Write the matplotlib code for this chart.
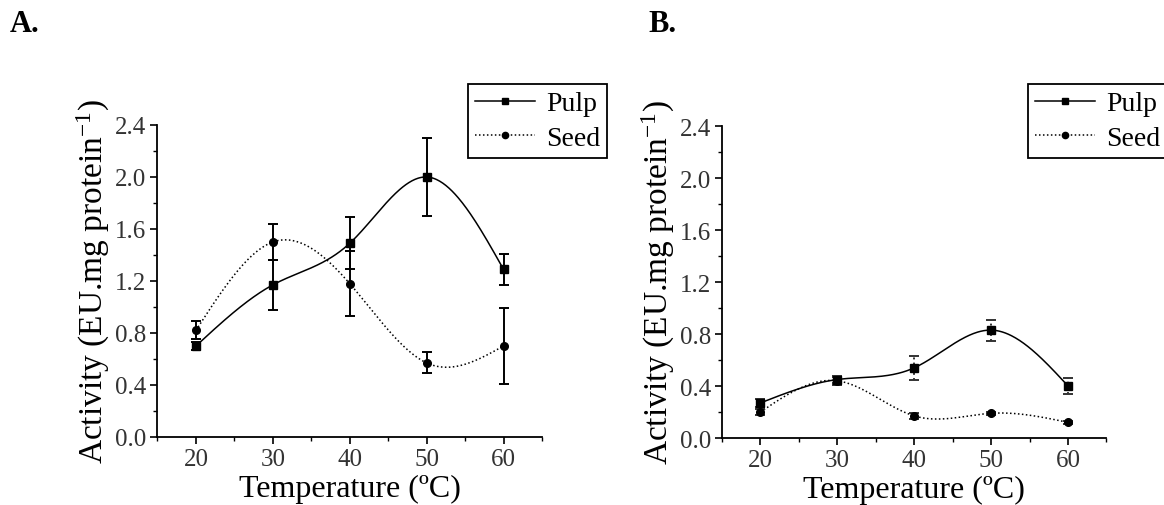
import numpy as np
import matplotlib.pyplot as plt
from matplotlib.ticker import MultipleLocator

plt.rcParams['font.family'] = ['Liberation Serif', 'DejaVu Serif']
plt.rcParams['mathtext.fontset'] = 'custom'
plt.rcParams['mathtext.rm'] = 'Liberation Serif'
plt.rcParams['mathtext.it'] = 'Liberation Serif:italic'

# data
temps = [20, 30, 40, 50, 60]

pulp_a = [0.70, 1.17, 1.49, 2.00, 1.29]
pulp_a_err = [0.03, 0.19, 0.20, 0.30, 0.12]
seed_a = [0.82, 1.50, 1.18, 0.57, 0.70]
seed_a_err = [0.07, 0.14, 0.25, 0.08, 0.29]

pulp_b = [0.27, 0.45, 0.54, 0.83, 0.40]
pulp_b_err = [0.03, 0.03, 0.09, 0.08, 0.06]
seed_b = [0.20, 0.44, 0.17, 0.19, 0.12]
seed_b_err = [0.02, 0.03, 0.02, 0.01, 0.01]


def smooth(x, y, n=300):
    # natural cubic spline through the points (like Origin's spline connector)
    x = np.asarray(x, float)
    y = np.asarray(y, float)
    k = len(x)
    h = np.diff(x)
    A = np.zeros((k, k))
    r = np.zeros(k)
    A[0, 0] = A[-1, -1] = 1
    for i in range(1, k - 1):
        A[i, i - 1] = h[i - 1]
        A[i, i] = 2 * (h[i - 1] + h[i])
        A[i, i + 1] = h[i]
        r[i] = 6 * ((y[i + 1] - y[i]) / h[i] - (y[i] - y[i - 1]) / h[i - 1])
    M = np.linalg.solve(A, r)
    xs = np.linspace(x[0], x[-1], n)
    idx = np.clip(np.searchsorted(x, xs) - 1, 0, k - 2)
    x0, x1 = x[idx], x[idx + 1]
    hh = x1 - x0
    t0, t1 = x1 - xs, xs - x0
    ys = (M[idx] * t0**3 + M[idx + 1] * t1**3) / (6 * hh) \
        + (y[idx] / hh - M[idx] * hh / 6) * t0 \
        + (y[idx + 1] / hh - M[idx + 1] * hh / 6) * t1
    return xs, ys


fig = plt.figure(figsize=(11.64, 5.06), dpi=100)
ax_a = fig.add_axes([0.1353, 0.1344, 0.3303, 0.6166])
ax_b = fig.add_axes([0.6203, 0.1324, 0.3303, 0.6166])

dot = (0, (1, 1.6))


def draw(ax, pulp, pulp_err, seed, seed_err, errstyle, errcolor):
    xs, ys = smooth(temps, pulp)
    ax.plot(xs, ys, color='black', lw=1.1)
    xs, ys = smooth(temps, seed)
    ax.plot(xs, ys, color='black', lw=1.1, ls=dot)
    e1 = ax.errorbar(temps, pulp, yerr=pulp_err, fmt='none', ecolor=errcolor,
                     elinewidth=1.4, capsize=3.5, capthick=1.4, clip_on=False)
    e2 = ax.errorbar(temps, seed, yerr=seed_err, fmt='none', ecolor=errcolor,
                     elinewidth=1.4, capsize=3.5, capthick=1.4, clip_on=False)
    for e in (e1, e2):
        for c in e[2]:
            c.set_linestyle(errstyle)
    ax.plot(temps, pulp, ls='none', marker='s', ms=6, color='black', clip_on=False)
    ax.plot(temps, seed, ls='none', marker='o', ms=5.5, color='black', clip_on=False)
    # legend handles
    ax.plot([], [], color='black', lw=1.1, marker='s', ms=5, label='Pulp')
    ax.plot([], [], color='black', lw=1.1, ls=dot, marker='o', ms=4.5, label='Seed')

    ax.set_xlim(15, 65)
    ax.set_ylim(0, 2.4)
    ax.xaxis.set_major_locator(MultipleLocator(10))
    ax.xaxis.set_minor_locator(MultipleLocator(5))
    ax.set_xticks(temps)
    ax.yaxis.set_major_locator(MultipleLocator(0.4))
    ax.yaxis.set_minor_locator(MultipleLocator(0.2))
    ax.yaxis.set_major_formatter(plt.FuncFormatter(lambda v, p: f'{v:.1f}'))
    ax.spines['top'].set_visible(False)
    ax.spines['right'].set_visible(False)
    for s in ('left', 'bottom'):
        ax.spines[s].set_linewidth(1.3)
    ax.tick_params(which='major', direction='out', length=5, width=1.2,
                   labelsize=18, labelcolor='#333333', pad=3)
    ax.tick_params(which='minor', direction='out', length=3, width=1.0)
    ax.set_xlabel('Temperature (ºC)', fontsize=23, labelpad=3)
    ax.set_ylabel('Activity (EU.mg protein$^{-1}$)', fontsize=24, labelpad=2)


draw(ax_a, pulp_a, pulp_a_err, seed_a, seed_a_err, '-', 'black')
draw(ax_b, pulp_b, pulp_b_err, seed_b, seed_b_err, ':', '#333333')

for ax, x0 in ((ax_a, 468), (ax_b, 1028)):
    leg = ax.legend(loc='upper left', bbox_to_anchor=(x0 / 1164, 1 - 85 / 506),
                    bbox_transform=fig.transFigure, fontsize=20, frameon=True,
                    fancybox=False, edgecolor='black', framealpha=1,
                    handlelength=2.15, handletextpad=0.4, borderpad=0.25,
                    labelspacing=0.32, borderaxespad=0)
    leg.get_frame().set_linewidth(1.3)

fig.text(10 / 1164, 1 - 10 / 506, 'A.', fontsize=22, fontweight='bold', va='top')
fig.text(648 / 1164, 1 - 10 / 506, 'B.', fontsize=22, fontweight='bold', va='top')

fig.savefig('out.png', dpi=100, facecolor='white')
